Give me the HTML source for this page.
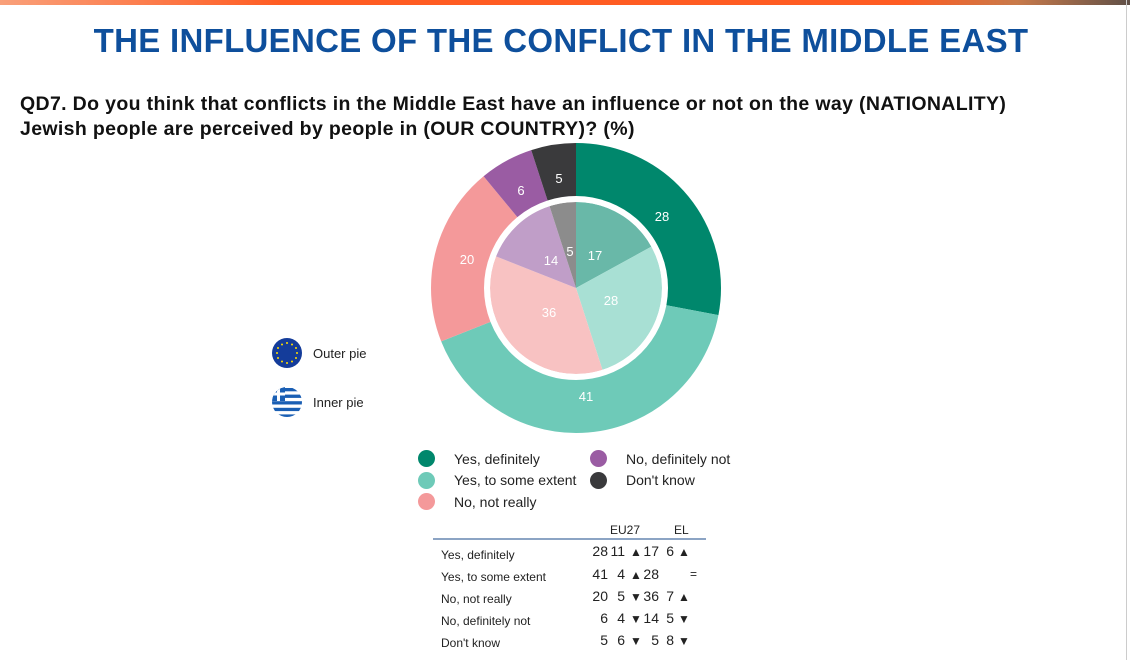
<!DOCTYPE html>
<html><head><meta charset="utf-8"><style>
body{margin:0;width:1130px;height:660px;overflow:hidden;background:#fff;font-family:"Liberation Sans","DejaVu Sans",sans-serif;position:relative}
.bar{position:absolute;left:0;top:0;width:1130px;height:5px;background:linear-gradient(90deg,#f9a07a 0%,#ff5c22 25%,#ff5c22 80%,#c87a4a 90%,#605048 100%)}
.vl{position:absolute;left:1126px;top:0;width:1px;height:660px;background:#ccc}
h1{position:absolute;left:0;width:1122px;top:22px;margin:0;text-align:center;font-size:33px;color:#0e4f9c;font-weight:bold;letter-spacing:0.3px}
.q{position:absolute;left:20px;top:92px;font-size:19.5px;font-weight:bold;line-height:25px;color:#111;letter-spacing:0.35px}
.t{position:absolute;font-size:13px;color:#222}
.leg{position:absolute;font-size:14px;color:#222}
.dot{position:absolute;width:17px;height:17px;border-radius:50%}
.n{position:absolute;font-size:14px;color:#222;text-align:right;width:20px}
.a{position:absolute;font-size:12px;color:#222}
</style></head><body>
<div class="bar"></div><div class="vl"></div>
<h1>THE INFLUENCE OF THE CONFLICT IN THE MIDDLE EAST</h1>
<div class="q">QD7. Do you think that conflicts in the Middle East have an influence or not on the way (NATIONALITY)<br>Jewish people are perceived by people in (OUR COUNTRY)? (%)</div>
<svg style="position:absolute;left:0;top:0" width="1130" height="660">
<g transform="rotate(-90 576 288)" fill="none">
<circle cx="576" cy="288" r="118.5" stroke="#00876c" stroke-width="53" pathLength="100" stroke-dasharray="28 72" stroke-dashoffset="0"/>
<circle cx="576" cy="288" r="118.5" stroke="#6ecab8" stroke-width="53" pathLength="100" stroke-dasharray="41 59" stroke-dashoffset="-28"/>
<circle cx="576" cy="288" r="118.5" stroke="#f4999a" stroke-width="53" pathLength="100" stroke-dasharray="20 80" stroke-dashoffset="-69"/>
<circle cx="576" cy="288" r="118.5" stroke="#9a5ca3" stroke-width="53" pathLength="100" stroke-dasharray="6 94" stroke-dashoffset="-89"/>
<circle cx="576" cy="288" r="118.5" stroke="#3a3a3c" stroke-width="53" pathLength="100" stroke-dasharray="5 95" stroke-dashoffset="-95"/>
<circle cx="576" cy="288" r="43" stroke="#69b8a8" stroke-width="86" pathLength="100" stroke-dasharray="17 83" stroke-dashoffset="0"/>
<circle cx="576" cy="288" r="43" stroke="#a8e0d4" stroke-width="86" pathLength="100" stroke-dasharray="28 72" stroke-dashoffset="-17"/>
<circle cx="576" cy="288" r="43" stroke="#f8c2c2" stroke-width="86" pathLength="100" stroke-dasharray="36 64" stroke-dashoffset="-45"/>
<circle cx="576" cy="288" r="43" stroke="#c09ec8" stroke-width="86" pathLength="100" stroke-dasharray="14 86" stroke-dashoffset="-81"/>
<circle cx="576" cy="288" r="43" stroke="#8c8c8c" stroke-width="86" pathLength="100" stroke-dasharray="5 95" stroke-dashoffset="-95"/>
</g>
<circle cx="576" cy="288" r="88" fill="none" stroke="#fff" stroke-width="4"/>
<g font-size="13" fill="#fff" text-anchor="middle" font-family="Liberation Sans,sans-serif">
<text x="662" y="221">28</text><text x="586" y="401">41</text><text x="467" y="264">20</text>
<text x="521" y="195">6</text><text x="559" y="183">5</text>
<text x="595" y="260">17</text><text x="611" y="305">28</text><text x="549" y="317">36</text>
<text x="551" y="265">14</text><text x="570" y="256">5</text>
</g>
<circle cx="287" cy="353" r="15" fill="#143c9a"/>
<g fill="#ffdd00"><circle cx="287" cy="343" r="1"/><circle cx="292" cy="344.5" r="1"/><circle cx="296" cy="348" r="1"/><circle cx="297" cy="353" r="1"/><circle cx="296" cy="358" r="1"/><circle cx="292" cy="361.5" r="1"/><circle cx="287" cy="363" r="1"/><circle cx="282" cy="361.5" r="1"/><circle cx="278" cy="358" r="1"/><circle cx="277" cy="353" r="1"/><circle cx="278" cy="348" r="1"/><circle cx="282" cy="344.5" r="1"/></g>
<clipPath id="gc"><circle cx="287" cy="402" r="15"/></clipPath>
<g clip-path="url(#gc)"><rect x="272" y="387" width="30" height="30" fill="#fff"/>
<rect x="272" y="388" width="30" height="3.3" fill="#1a5fb4"/><rect x="272" y="394.6" width="30" height="3.3" fill="#1a5fb4"/><rect x="272" y="401.2" width="30" height="3.3" fill="#1a5fb4"/><rect x="272" y="407.8" width="30" height="3.3" fill="#1a5fb4"/><rect x="272" y="414.4" width="30" height="3.3" fill="#1a5fb4"/>
<rect x="272" y="387" width="13" height="14" fill="#1a5fb4"/><rect x="277" y="387" width="3" height="14" fill="#fff"/><rect x="272" y="392.5" width="13" height="3" fill="#fff"/></g>
<line x1="433" y1="539" x2="706" y2="539" stroke="#1a4a8a" stroke-width="1"/>
</svg>
<div class="t" style="left:313px;top:346px">Outer pie</div>
<div class="t" style="left:313px;top:395px">Inner pie</div>
<div class="dot" style="left:418px;top:450px;background:#00876c"></div><div class="leg" style="left:454px;top:451px">Yes, definitely</div>
<div class="dot" style="left:418px;top:472px;background:#6ecab8"></div><div class="leg" style="left:454px;top:472px">Yes, to some extent</div>
<div class="dot" style="left:418px;top:493px;background:#f4999a"></div><div class="leg" style="left:454px;top:494px">No, not really</div>
<div class="dot" style="left:590px;top:450px;background:#9a5ca3"></div><div class="leg" style="left:626px;top:451px">No, definitely not</div>
<div class="dot" style="left:590px;top:472px;background:#3a3a3c"></div><div class="leg" style="left:626px;top:472px">Don't know</div>
<div class="t" style="left:610px;top:523px;font-size:12px">EU27</div><div class="t" style="left:674px;top:523px;font-size:12px">EL</div>
<div class="t" style="left:441px;top:544px;font-size:12px;line-height:22px">Yes, definitely<br>Yes, to some extent<br>No, not really<br>No, definitely not<br>Don't know</div>

<div class="n" style="left:588px;top:543px">28</div><div class="n" style="left:605px;top:543px">11</div><div class="a" style="left:630px;top:545px">▲</div><div class="n" style="left:639px;top:543px">17</div><div class="n" style="left:654px;top:543px">6</div><div class="a" style="left:678px;top:545px">▲</div>
<div class="n" style="left:588px;top:566px">41</div><div class="n" style="left:605px;top:566px">4</div><div class="a" style="left:630px;top:568px">▲</div><div class="n" style="left:639px;top:566px">28</div><div class="a" style="left:690px;top:567px">=</div>
<div class="n" style="left:588px;top:588px">20</div><div class="n" style="left:605px;top:588px">5</div><div class="a" style="left:630px;top:590px">▼</div><div class="n" style="left:639px;top:588px">36</div><div class="n" style="left:654px;top:588px">7</div><div class="a" style="left:678px;top:590px">▲</div>
<div class="n" style="left:588px;top:610px">6</div><div class="n" style="left:605px;top:610px">4</div><div class="a" style="left:630px;top:612px">▼</div><div class="n" style="left:639px;top:610px">14</div><div class="n" style="left:654px;top:610px">5</div><div class="a" style="left:678px;top:612px">▼</div>
<div class="n" style="left:588px;top:632px">5</div><div class="n" style="left:605px;top:632px">6</div><div class="a" style="left:630px;top:634px">▼</div><div class="n" style="left:639px;top:632px">5</div><div class="n" style="left:654px;top:632px">8</div><div class="a" style="left:678px;top:634px">▼</div>
</body></html>
